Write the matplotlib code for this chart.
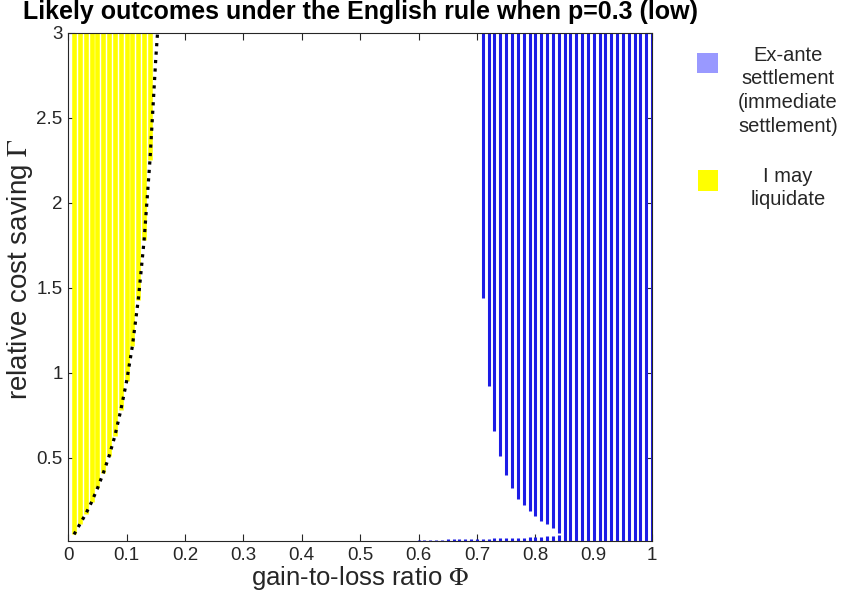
import matplotlib
matplotlib.use('Agg')
import matplotlib.pyplot as plt
from matplotlib.patches import Rectangle
import numpy as np

plt.rcParams['font.family'] = ['Liberation Sans', 'DejaVu Sans']
plt.rcParams['mathtext.fontset'] = 'stix'

######
# yellow region (I may liquidate): columns in phi, from lower bound up to 3
yellow_phi = [0.01, 0.02, 0.03, 0.04, 0.05, 0.06, 0.07, 0.08, 0.09, 0.10, 0.11, 0.12, 0.13, 0.14]
yellow_low = [0.05, 0.11, 0.17, 0.24, 0.32, 0.41, 0.51, 0.63, 0.78, 0.95, 1.16, 1.43, 1.78, 2.25]
# dotted boundary curve
curve_phi = [0.01, 0.02, 0.03, 0.04, 0.05, 0.06, 0.07, 0.08, 0.09, 0.10, 0.11, 0.12, 0.13, 0.14, 0.15, 0.153]
curve_gamma = [0.05, 0.11, 0.17, 0.24, 0.32, 0.41, 0.51, 0.63, 0.78, 0.95, 1.16, 1.43, 1.78, 2.25, 2.85, 3.0]
##
# blue region (ex-ante settlement)
blue_phi = [0.60, 0.61, 0.62, 0.63, 0.64, 0.65, 0.66, 0.67, 0.68, 0.69, 0.70,
            0.71, 0.72, 0.73, 0.74, 0.75, 0.76, 0.77, 0.78, 0.79, 0.80,
            0.81, 0.82, 0.83, 0.84, 0.85, 0.86, 0.87, 0.88, 0.89, 0.90,
            0.91, 0.92, 0.93, 0.94, 0.95, 0.96, 0.97, 0.98, 0.99, 1.00]
nan = np.nan
blue_low = [nan, nan, nan, nan, nan, nan, nan, nan, nan, nan, nan,
            1.44, 0.92, 0.66, 0.51, 0.40, 0.32, 0.26, 0.22, 0.19, 0.16,
            0.13, 0.11, 0.09, 0.06, 0.01, 0.01, 0.01, 0.01, 0.01, 0.01,
            0.01, 0.01, 0.01, 0.01, 0.01, 0.01, 0.01, 0.01, 0.01, 0.01]
blue_dot_top = [0.018, 0.018, 0.018, 0.018, 0.018, 0.02, 0.02, 0.02, 0.02, 0.022, 0.022,
                0.024, 0.024, 0.026, 0.026, 0.028, 0.028, 0.03, 0.03, 0.032, 0.034,
                0.036, 0.038, 0.042, 0.046, nan, nan, nan, nan, nan, nan,
                nan, nan, nan, nan, nan, nan, nan, nan, nan, nan]
gamma_min = 0.01
gamma_max = 3.0
######

fig = plt.figure(figsize=(8.42, 5.98), dpi=100)
ax = fig.add_axes([0.081, 0.095, 0.6935, 0.85])

yel = '#ffff00'
blu = '#1c1ce6'

ax.vlines(yellow_phi, yellow_low, gamma_max, colors=yel, linewidth=3.3, zorder=2)

bp = np.array(blue_phi)
bl = np.array(blue_low)
bd = np.array(blue_dot_top)
m = ~np.isnan(bl)
ax.vlines(bp[m], bl[m], gamma_max, colors=blu, linewidth=2.2, zorder=2)
m = ~np.isnan(bd)
ax.vlines(bp[m], gamma_min, bd[m], colors=blu, linewidth=2.2, zorder=2)

ax.plot(curve_phi, curve_gamma, color='k', linestyle=':', linewidth=2.3, zorder=3)

ax.set_xlim(0, 1)
ax.set_ylim(gamma_min, gamma_max)
ax.set_xticks(np.arange(0, 1.01, 0.1))
ax.set_xticklabels(['0', '0.1', '0.2', '0.3', '0.4', '0.5', '0.6', '0.7', '0.8', '0.9', '1'])
ax.set_yticks([0.5, 1, 1.5, 2, 2.5, 3])
ax.set_yticklabels(['0.5', '1', '1.5', '2', '2.5', '3'])
ax.tick_params(direction='in', top=True, right=True, length=5, width=0.8,
               labelsize=13.5, colors='#262626', pad=4)
for s in ax.spines.values():
    s.set_color('#262626')
    s.set_linewidth(0.8)

ax.set_xlabel(r'gain-to-loss ratio $\Phi$', fontsize=18.5, color='#262626', labelpad=0)
ax.set_ylabel(r'relative cost saving $\Gamma$', fontsize=20, color='#262626')
ax.yaxis.set_label_coords(-0.057, 0.535)
ax.set_title('Likely outcomes under the English rule when p=0.3 (low)',
             fontsize=18, fontweight='bold', pad=10)

# legend
W, H = 842.0, 598.0
fig.add_artist(Rectangle((697 / W, 1 - 73 / H), 21 / W, 20 / H, transform=fig.transFigure,
                         facecolor='#9999ff', edgecolor='none'))
fig.add_artist(Rectangle((698 / W, 1 - 191 / H), 20 / W, 21 / H, transform=fig.transFigure,
                         facecolor=yel, edgecolor='none'))
fig.text(788 / W, 1 - 46 / H, 'Ex-ante\nsettlement\n(immediate\nsettlement)', ha='center', va='top',
         fontsize=14.5, linespacing=1.3, color='#262626')
fig.text(788 / W, 1 - 167 / H, 'I may\nliquidate', ha='center', va='top',
         fontsize=14.5, linespacing=1.3, color='#262626')

plt.savefig('out.png', dpi=100)
